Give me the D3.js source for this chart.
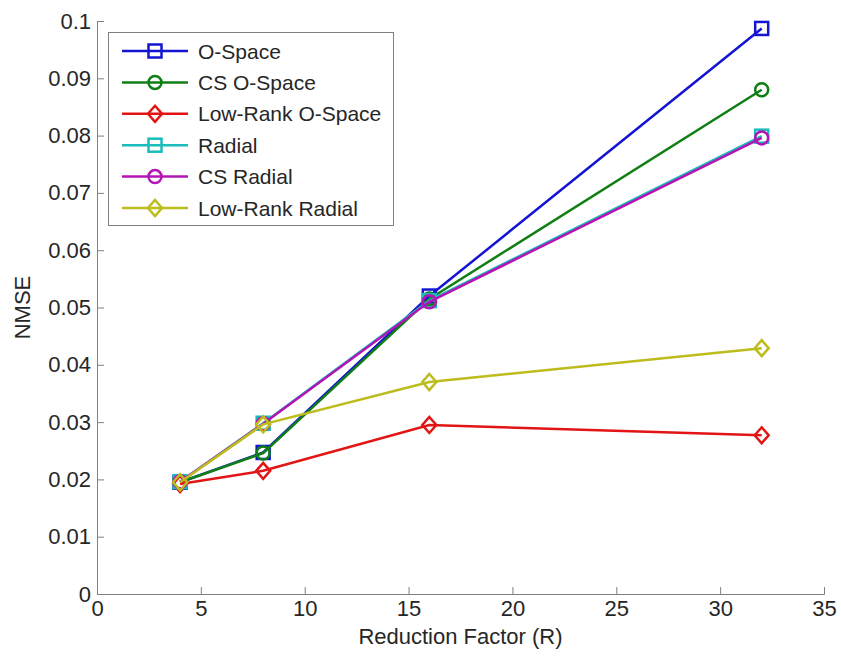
<!DOCTYPE html>
<html>
<head>
<meta charset="utf-8">
<script src="https://cdn.jsdelivr.net/npm/d3@7"></script>
<style>
  body { margin: 0; background: #fff; }
  svg text { font-family: Arial, "Liberation Sans", sans-serif; fill: #262626; }
</style>
</head>
<body>
<div id="chart"></div>
<script>
(function () {
  'use strict';

  // reduction factors on the x axis
  var factors = [4, 8, 16, 32];

  var seriesNames = ['O-Space', 'CS O-Space', 'Low-Rank O-Space', 'Radial', 'CS Radial', 'Low-Rank Radial'];
  var oSpace = [0.0195, 0.0247, 0.0520, 0.0987];
  var csOSpace = [0.0195, 0.0246, 0.0515, 0.0880];
  var lowRankOSpace = [0.0192, 0.0215, 0.0295, 0.0277];
  var radial = [0.0196, 0.0298, 0.0512, 0.0799];
  var csRadial = [0.0196, 0.0297, 0.0510, 0.0796];
  var lowRankRadial = [0.0195, 0.0296, 0.0370, 0.0429];

  var xTicks = [0, 5, 10, 15, 20, 25, 30, 35];
  var yTicks = [0, 0.01, 0.02, 0.03, 0.04, 0.05, 0.06, 0.07, 0.08, 0.09, 0.1];

  var colors = ['#1414d2', '#0f7f14', '#e21414', '#1cbcbc', '#b414b4', '#bcbc1c'];
  var markers = ['square', 'circle', 'diamond', 'square', 'circle', 'diamond'];
  var values = [oSpace, csOSpace, lowRankOSpace, radial, csRadial, lowRankRadial];

  var width = 841, height = 656,
      margin = {left: 97, right: 17, top: 21, bottom: 62},
      fontSize = 22;

  var svg = d3.select('#chart').append('svg')
    .attr('width', width)
    .attr('height', height);

  var x = d3.scaleLinear().domain([0, 35]).range([margin.left, width - margin.right]);
  var y = d3.scaleLinear().domain([0, 0.1]).range([height - margin.bottom, margin.top]);

  // axes, matlab style ticks pointing inward
  var xAxis = svg.append('g')
    .attr('transform', 'translate(0,' + y(0) + ')')
    .call(d3.axisBottom(x).tickValues(xTicks).tickSize(-7).tickPadding(6).tickFormat(d3.format('d')));
  var yAxis = svg.append('g')
    .attr('transform', 'translate(' + x(0) + ',0)')
    .call(d3.axisLeft(y).tickValues(yTicks).tickSize(-7).tickPadding(6).tickFormat(function (d) { return d === 0 ? '0' : String(+d.toFixed(2)); }));

  [xAxis, yAxis].forEach(function (ax) {
    ax.select('.domain').attr('stroke', '#808080').attr('stroke-width', 1);
    ax.selectAll('.tick line').attr('stroke', '#808080');
    ax.selectAll('.tick text').attr('font-size', fontSize).attr('fill', '#262626')
      .style('font-family', 'Arial, "Liberation Sans", sans-serif');
  });
  xAxis.selectAll('.tick text').attr('dy', '0.71em');

  svg.append('text')
    .attr('x', (x(0) + x(35)) / 2)
    .attr('y', 644)
    .attr('text-anchor', 'middle')
    .attr('font-size', fontSize)
    .text('Reduction Factor (R)');

  svg.append('text')
    .attr('transform', 'translate(30,' + y(0.05) + ') rotate(-90)')
    .attr('text-anchor', 'middle')
    .attr('font-size', fontSize)
    .text('NMSE');

  function drawMarker(g, type, cx, cy, color) {
    if (type === 'square') {
      g.append('rect').attr('x', cx - 6.5).attr('y', cy - 6.5).attr('width', 13).attr('height', 13)
        .attr('fill', 'none').attr('stroke', color).attr('stroke-width', 2.5);
    } else if (type === 'circle') {
      g.append('circle').attr('cx', cx).attr('cy', cy).attr('r', 6.5)
        .attr('fill', 'none').attr('stroke', color).attr('stroke-width', 2.5);
    } else {
      g.append('path').attr('d', 'M' + cx + ',' + (cy - 8) + 'L' + (cx + 7) + ',' + cy + 'L' + cx + ',' + (cy + 8) + 'L' + (cx - 7) + ',' + cy + 'Z')
        .attr('fill', 'none').attr('stroke', color).attr('stroke-width', 2.5);
    }
  }

  var line = d3.line()
    .x(function (d) { return x(d[0]); })
    .y(function (d) { return y(d[1]); });

  values.forEach(function (vals, i) {
    var g = svg.append('g').attr('class', 'series');
    var pts = factors.map(function (f, j) { return [f, vals[j]]; });
    g.append('path').datum(pts)
      .attr('d', line)
      .attr('fill', 'none')
      .attr('stroke', colors[i])
      .attr('stroke-width', 2.5);
    pts.forEach(function (p) {
      drawMarker(g, markers[i], x(p[0]), y(p[1]), colors[i]);
    });
  });

  // legend
  var legend = svg.append('g').attr('class', 'legend');
  legend.append('rect')
    .attr('x', 108.5).attr('y', 32.5)
    .attr('width', 285).attr('height', 193)
    .attr('fill', '#fff')
    .attr('stroke', '#808080');

  seriesNames.forEach(function (name, i) {
    var ly = 51 + i * 31.4;
    legend.append('line')
      .attr('x1', 122).attr('x2', 188).attr('y1', ly).attr('y2', ly)
      .attr('stroke', colors[i]).attr('stroke-width', 2.5);
    drawMarker(legend, markers[i], 155, ly, colors[i]);
    legend.append('text')
      .attr('x', 198).attr('y', ly)
      .attr('dy', '0.36em')
      .attr('font-size', 21)
      .text(name);
  });
}());
</script>
</body>
</html>
